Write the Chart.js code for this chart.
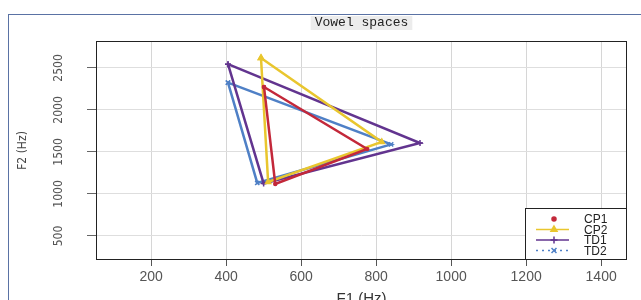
<!DOCTYPE html>
<html>
<head>
<meta charset="utf-8">
<script src="https://cdn.jsdelivr.net/npm/chart.js@4.4.1/dist/chart.umd.min.js"></script>
<style>
  body { margin: 0; background: #fff; }
  #frame { position: absolute; left: 8px; top: 14px; width: 700px; height: 400px; border: 1px solid #5a72a4; }
  #myChart { position: absolute; left: 0; top: 0; }
</style>
</head>
<body>
<div id="frame"></div>
<canvas id="myChart" width="641" height="300"></canvas>
<script>
// vowel triangles: /i/ (top), /a/ (right), /u/ (bottom), back to /i/
const groups = ['CP1', 'CP2', 'TD1', 'TD2'];
const cp1F1 = [501, 776, 531, 501];
const cp1F2 = [2274, 1536, 1120, 2274];
const cp2F1 = [493, 815, 512, 493];
const cp2F2 = [2619, 1620, 1143, 2619];
const td1F1 = [405, 917, 500, 405];
const td1F2 = [2545, 1607, 1125, 2545];
const td2F1 = [405, 840, 483, 405];
const td2F2 = [2325, 1590, 1131, 2325];
const xTicks = [200, 400, 600, 800, 1000, 1200, 1400];
const yTicks = [500, 1000, 1500, 2000, 2500];
const chartTitle = 'Vowel spaces';

const colors = ['#c3283a', '#e9c62e', '#62348f', '#4f80c6'];
const styles = ['circle', 'triangle', 'cross', 'crossRot'];
const series = [[cp1F1, cp1F2], [cp2F1, cp2F2], [td1F1, td1F2], [td2F1, td2F2]];
const narrow = '"DejaVu Sans Condensed", "Liberation Sans", sans-serif';

function toPoints(xs, ys) {
    let pts = [];
    for (let i = 0; i < xs.length; i++) {
        pts.push({ x: xs[i], y: ys[i] });
    }
    return pts;
}

let datasets = [];
for (let i = 0; i < groups.length; i++) {
    datasets.push({
        label: groups[i],
        data: toPoints(series[i][0], series[i][1]),
        showLine: true,
        borderColor: colors[i],
        backgroundColor: colors[i],
        borderWidth: 2.5,
        pointStyle: styles[i],
        pointRadius: i === 0 ? 1.5 : 3,
        pointBorderWidth: 1.5
    });
}

const boxTitle = {
    id: 'boxTitle',
    afterDraw(chart) {
        const ctx = chart.ctx;
        const cx = (chart.chartArea.left + chart.chartArea.right) / 2;
        ctx.save();
        ctx.font = '13px "Liberation Mono"';
        const w = ctx.measureText(chartTitle).width;
        ctx.fillStyle = '#ececec';
        ctx.fillRect(cx - w / 2 - 4, 16, w + 8, 14);
        ctx.fillStyle = '#222';
        ctx.textAlign = 'center';
        ctx.textBaseline = 'middle';
        ctx.fillText(chartTitle, cx, 23);
        ctx.restore();
    }
};

const frameAndLegend = {
    id: 'frameAndLegend',
    afterDatasetsDraw(chart) {
        const ctx = chart.ctx;
        const a = chart.chartArea;
        ctx.save();
        ctx.strokeStyle = '#222';
        ctx.lineWidth = 1;
        ctx.strokeRect(a.left + 0.5, a.top + 0.5, a.right - a.left - 1, a.bottom - a.top - 1);

        // legend box in the lower right corner
        const bx = a.right - 102, by = a.bottom - 52;
        ctx.fillStyle = '#fff';
        ctx.fillRect(bx, by, 102, 52);
        ctx.strokeRect(bx + 0.5, by + 0.5, 101, 51);
        ctx.font = '12px "Liberation Sans"';
        ctx.textBaseline = 'middle';
        ctx.textAlign = 'left';
        for (let i = 0; i < groups.length; i++) {
            const y = by + 11 + i * 10.5;
            ctx.strokeStyle = colors[i];
            ctx.fillStyle = colors[i];
            ctx.lineWidth = 1.5;
            if (i > 0) {
                ctx.setLineDash(i === 3 ? [2, 4] : []);
                ctx.beginPath();
                ctx.moveTo(bx + 11, y);
                ctx.lineTo(bx + 44, y);
                ctx.stroke();
                ctx.setLineDash([]);
            }
            Chart.helpers.drawPoint(ctx, { pointStyle: styles[i], radius: i === 0 ? 2 : 3.5, borderWidth: 1.5 }, bx + 29, y);
            ctx.fillStyle = '#222';
            ctx.fillText(groups[i], bx + 59, y + 1);
        }
        ctx.restore();
    }
};

const ctx = document.getElementById('myChart').getContext('2d');
const myChart = new Chart(ctx, {
    type: 'scatter',
    data: { datasets: datasets },
    plugins: [boxTitle, frameAndLegend],
    options: {
        responsive: false,
        animation: false,
        devicePixelRatio: 1,
        layout: { padding: { top: 41, right: 14, left: 0, bottom: 0 } },
        plugins: { legend: { display: false }, tooltip: { enabled: false } },
        scales: {
            x: {
                type: 'linear',
                min: 53,
                max: 1469,
                afterBuildTicks: s => { s.ticks = xTicks.map(v => ({ value: v })); },
                afterFit: s => { s.height = 40; },
                grid: { color: '#d6d6d6', tickColor: '#555', tickLength: 6 },
                border: { display: false },
                ticks: { color: '#555', font: { family: 'Liberation Sans', size: 14 }, padding: 3, maxRotation: 0, callback: v => String(v) },
                title: { display: true, text: 'F1 (Hz)', color: '#333', font: { family: 'Liberation Sans', size: 15 }, padding: { top: 0, bottom: -8 } }
            },
            y: {
                type: 'linear',
                min: 214,
                max: 2821,
                afterBuildTicks: s => { s.ticks = yTicks.map(v => ({ value: v })); },
                afterFit: s => { s.width = 96; },
                grid: { color: '#dedede', tickColor: '#666', tickLength: 9 },
                border: { display: false },
                ticks: { color: '#555', font: { family: narrow, size: 12 }, padding: 14, minRotation: 90, maxRotation: 90, crossAlign: 'center', callback: v => String(v) },
                title: { display: true, text: 'F2 (Hz)', color: '#444', font: { family: narrow, size: 12 }, padding: { top: 16, bottom: 0 } }
            }
        }
    }
});
</script>
</body>
</html>
